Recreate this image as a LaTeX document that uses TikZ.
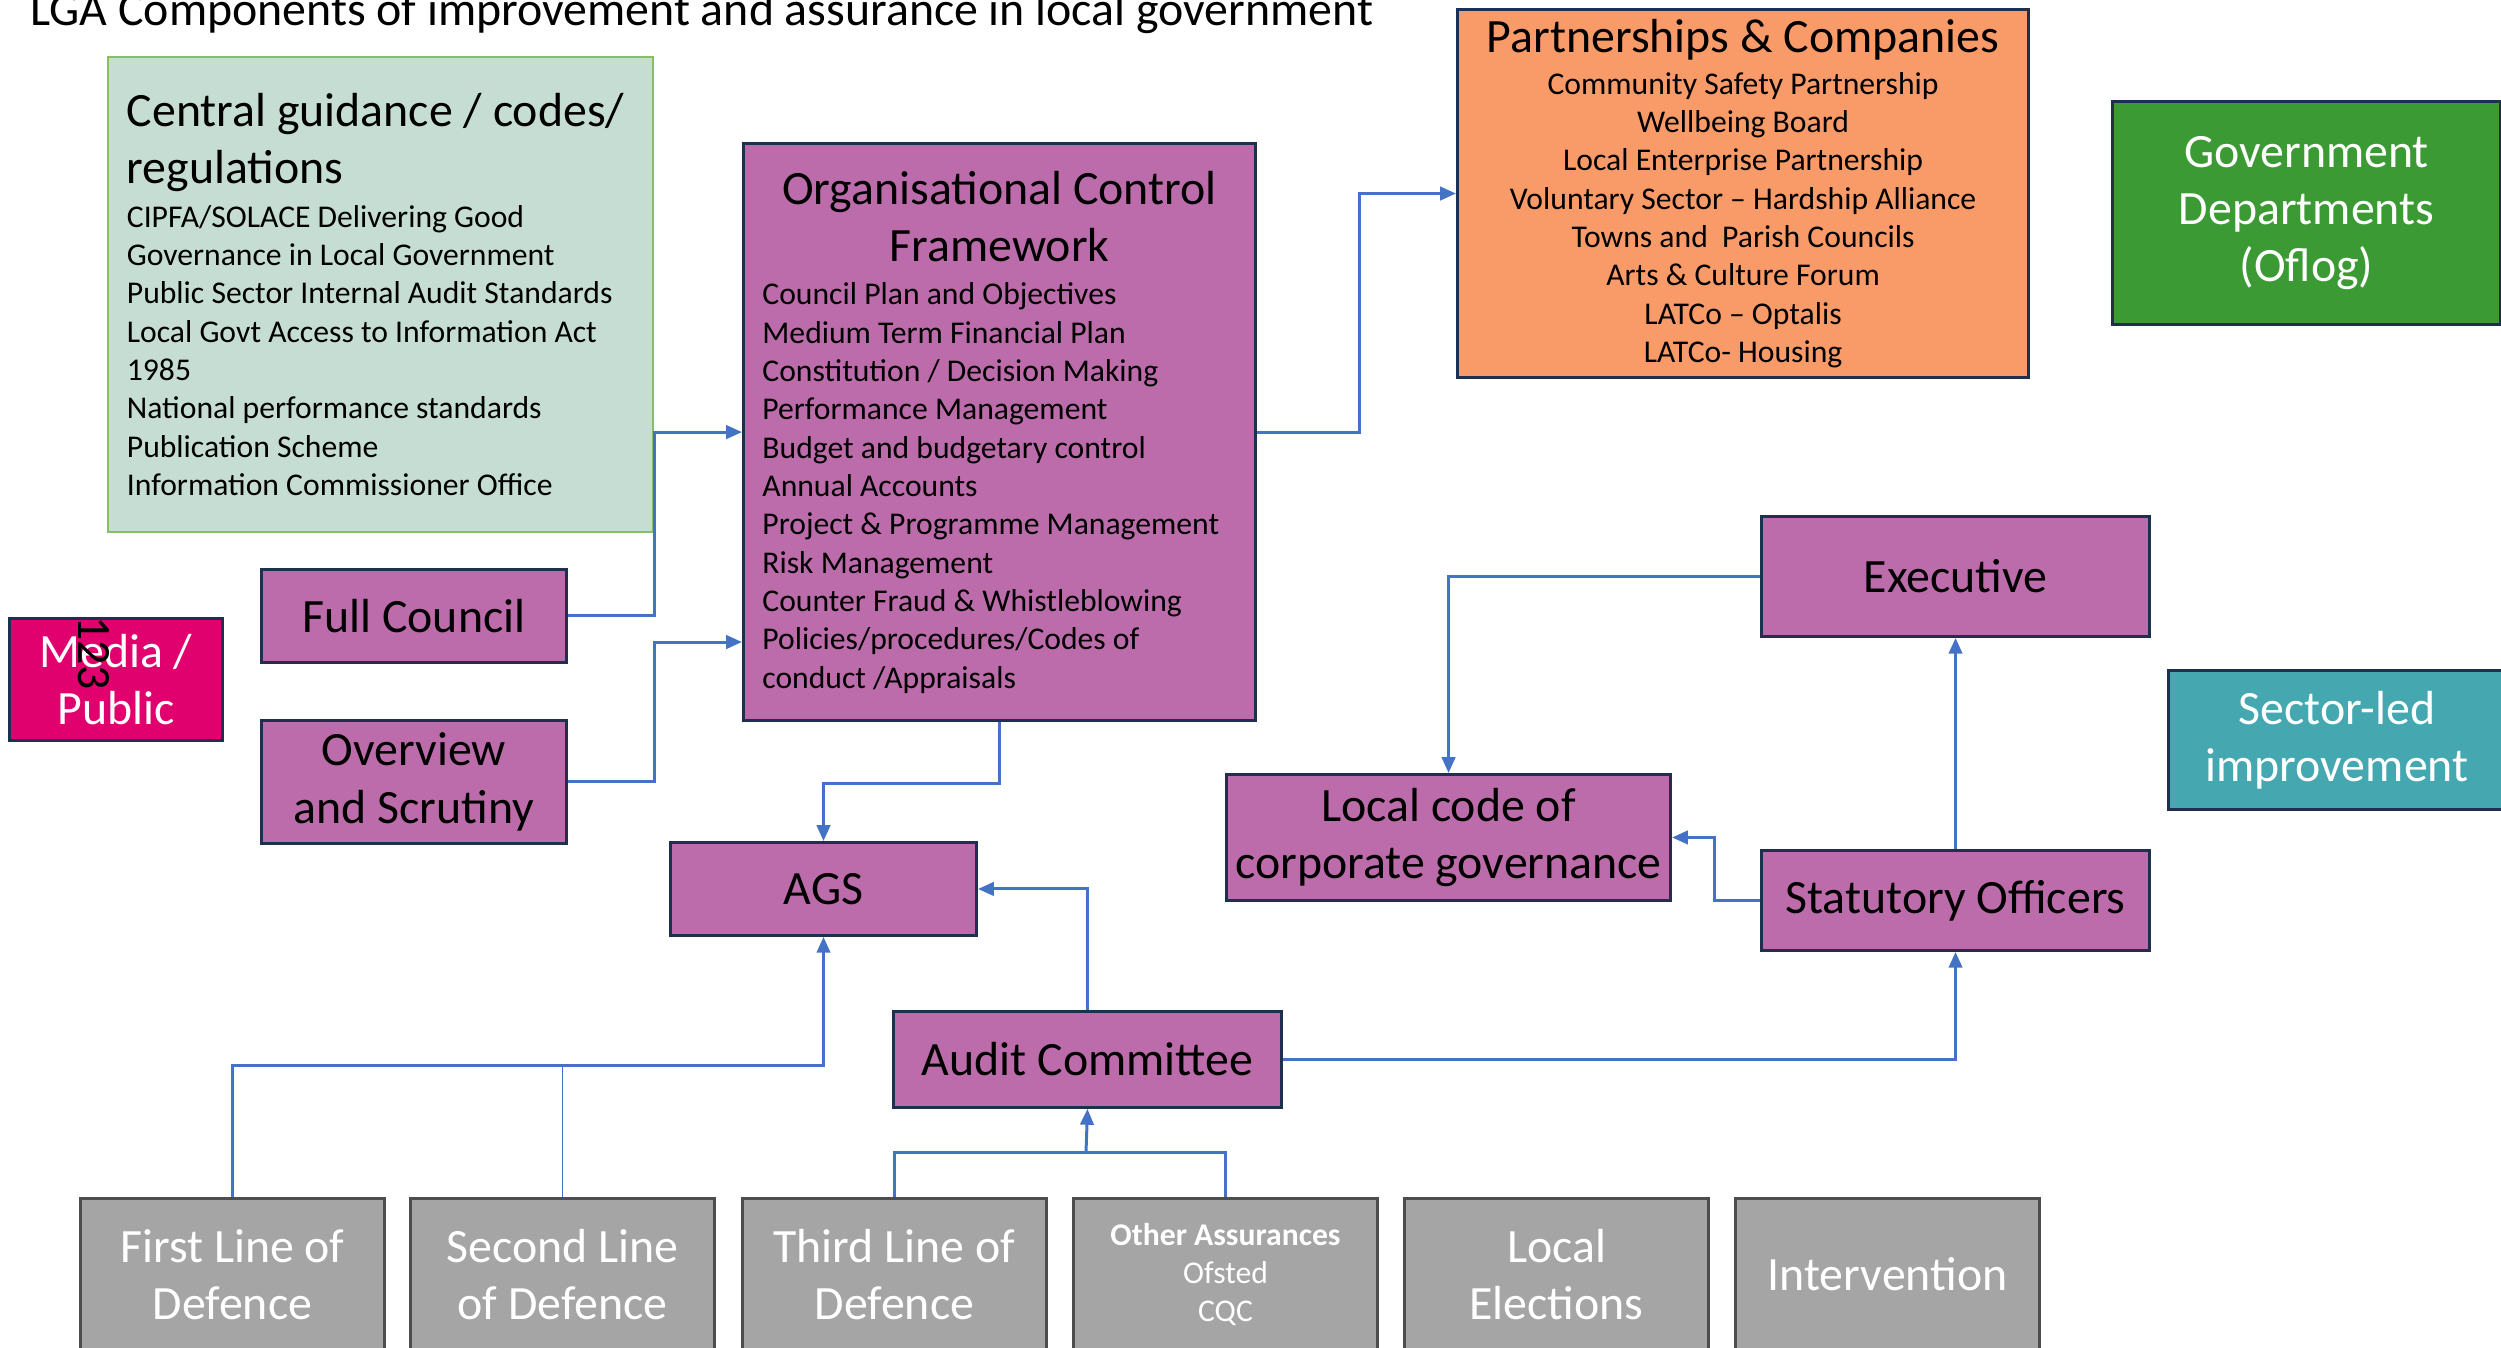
\documentclass[tikz,border=0pt]{standalone}
\usepackage{fontspec}
\usepackage{xcolor}
\usetikzlibrary{arrows.meta}
\setmainfont{Carlito}

\definecolor{purp}{HTML}{BC6CAA}
\definecolor{navy}{HTML}{1F2F4F}
\definecolor{guidefill}{HTML}{C5DDD3}
\definecolor{guideline}{HTML}{86C062}
\definecolor{orangefill}{HTML}{F99B69}
\definecolor{govgreen}{HTML}{3C9A34}
\definecolor{tealfill}{HTML}{45A8B1}
\definecolor{pinkfill}{HTML}{E0006E}
\definecolor{greyfill}{HTML}{A5A5A5}
\definecolor{greyline}{HTML}{4D4D4D}
\definecolor{linkblue}{HTML}{4472C4}

\newcommand{\bigtxt}{\fontsize{13.6}{16.3}\selectfont}
\newcommand{\listtxt}{\fontsize{9}{10.9}\selectfont}

\tikzset{
  box/.style={draw=navy, line width=0.8pt, fill=purp, inner xsep=2pt, inner ysep=1pt,
    font=\bigtxt, align=flush center, anchor=north west},
  greybox/.style={box, fill=greyfill, draw=greyline, text=white,
    minimum width=3.04cm, minimum height=1.52cm},
  link/.style={draw=linkblue, line width=0.85pt},
  conn/.style={link, -{Triangle[length=4.5pt,width=3.8pt]}},
}

\begin{document}
\begin{tikzpicture}[x=0.01cm, y=-0.01cm]
  \useasboundingbox (0,0) rectangle (2501,1347);

  \node[anchor=base west, font=\bigtxt, inner sep=0pt] (title) at (30,25)
    {LGA Components of improvement and assurance in local government};

  % upper blocks
  \node[box, fill=guidefill, draw=guideline, line width=0.5pt, minimum width=5.45cm,
    minimum height=4.75cm, text width=5.07cm, align=flush left] (guide) at (107,56)
    {Central guidance / codes/\\ regulations\par\vspace{1.5pt}
     {\listtxt CIPFA/SOLACE Delivering Good\\ Governance in Local Government\\
      Public Sector Internal Audit Standards\\ Local Govt Access to Information Act\\
      1985\\ National performance standards\\ Publication Scheme\\
      Information Commissioner Office\par}};
  \node[box, minimum width=5.12cm, minimum height=5.77cm, text width=4.74cm, align=flush left] (ocf) at (742,142)
    {{\centering Organisational Control\\ Framework\par}\vspace{1.5pt}
     {\listtxt Council Plan and Objectives\\ Medium Term Financial Plan\\
      Constitution / Decision Making\\ Performance Management\\
      Budget and budgetary control\\ Annual Accounts\\
      Project \& Programme Management\\ Risk Management\\
      Counter Fraud \& Whistleblowing\\ Policies/procedures/Codes of\\
      conduct /Appraisals\par}};
  \node[box, fill=orangefill, minimum width=5.71cm, minimum height=3.68cm, text width=5.5cm] (partner) at (1456,8)
    {Partnerships \& Companies\par\vspace{1pt}
     {\listtxt Community Safety Partnership\\ Wellbeing Board\\
      Local Enterprise Partnership\\ Voluntary Sector – Hardship Alliance\\
      Towns and~ Parish Councils\\ Arts \& Culture Forum\\
      LATCo – Optalis\\ LATCo- Housing\par}};
  \node[box, fill=govgreen, text=white, minimum width=3.88cm, minimum height=2.23cm] (govdept) at (2111,100)
    {Government\\ Departments\\ (Oflog)};

  \node[box, minimum width=3.05cm, minimum height=0.93cm] (council) at (260,568) {Full Council};
  \node[box, fill=pinkfill, text=white, minimum width=2.13cm, minimum height=1.22cm] (media) at (8,617)
    {Media /\\ Public};
  \node[rotate=-90, font=\bigtxt, inner sep=0pt] (pagenum) at (94,653) {123};
  \node[box, minimum width=3.05cm, minimum height=1.23cm] (scrutiny) at (260,719) {Overview\\ and Scrutiny};
  \node[box, minimum width=3.06cm, minimum height=0.93cm] (ags) at (669,841) {AGS};
  \node[box, minimum width=3.88cm, minimum height=1.2cm] (exec) at (1760,515) {Executive};
  \node[box, fill=tealfill, text=white, minimum width=3.37cm, minimum height=1.39cm] (sector) at (2167,669)
    {Sector-led\\ improvement};
  \node[box, minimum width=4.44cm, minimum height=1.26cm] (localcode) at (1225,773)
    {Local code of\\ corporate governance};
  \node[box, minimum width=3.88cm, minimum height=1cm] (statutory) at (1760,849) {Statutory Officers};
  \node[box, minimum width=3.88cm, minimum height=0.96cm] (audit) at (892,1010) {Audit Committee};

  % bottom row
  \node[greybox] (first) at (79,1197) {First Line of\\ Defence};
  \node[greybox] (second) at (409,1197) {Second Line\\ of Defence};
  \node[greybox] (third) at (741,1197) {Third Line of\\ Defence};
  \node[greybox, font=\listtxt] (other) at (1072,1197) {{\bfseries Other Assurances}\\ Ofsted\\ CQC};
  \node[greybox] (elections) at (1403,1197) {Local\\ Elections};
  \node[greybox] (intervene) at (1734,1197) {Intervention};

  \coordinate (ocfin) at (742,642);
  \coordinate (join) at (1086,1152);

  % connectors
  \draw[conn] (council.east) -- (council.east -| guide.east) |- (ocf.west);
  \draw[conn] (scrutiny.east) -- (scrutiny.east -| guide.east) |- (ocfin);
  \draw[conn] (ocf.east) -- ++(102,0) |- (partner.west);
  \draw[conn] (ocf.south) -- ++(0,61) -| (ags.north);
  \draw[conn] (audit.north) |- (ags.east);
  \draw[conn] (first.north) -- ++(0,-132) -| (ags.south);
  \draw[link, line width=0.45pt] (second.north) -- ++(0,-132);
  \draw[link] (third.north) |- (join) -| (other.north);
  \draw[conn] (join) -- (audit.south);
  \draw[conn] (audit.east) -| (statutory.south);
  \draw[conn] (statutory.north) -- (exec.south);
  \draw[conn] (exec.west) -| (localcode.north);
  \draw[conn] (statutory.west) -- ++(-46,0) |- (localcode.east);
\end{tikzpicture}
\end{document}
